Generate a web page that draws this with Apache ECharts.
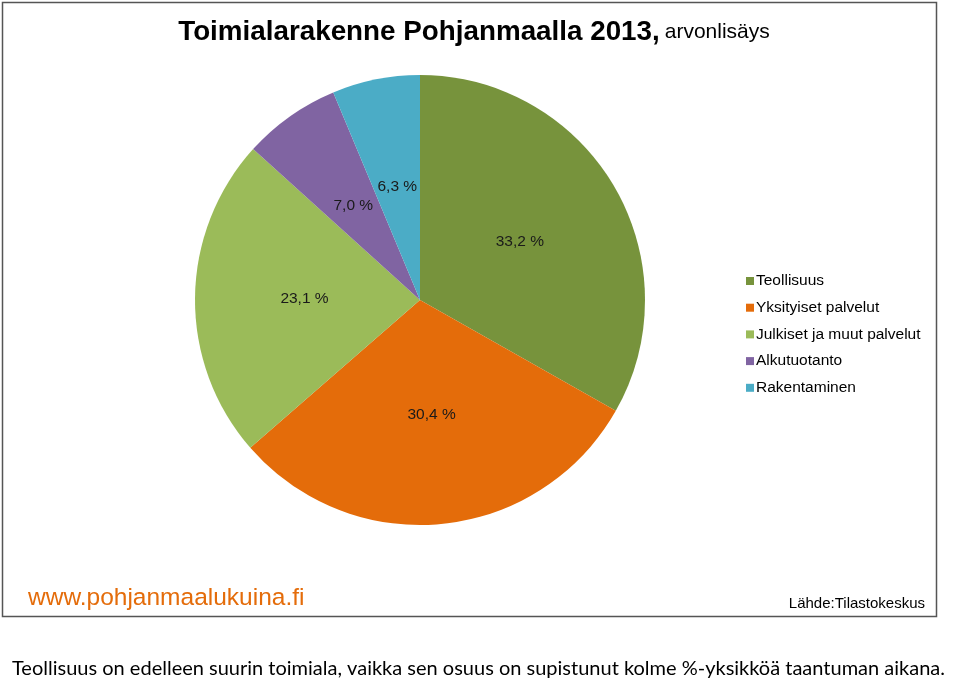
<!DOCTYPE html>
<html><head><meta charset="utf-8">
<script src="https://cdn.jsdelivr.net/npm/echarts@6/dist/echarts.min.js"></script>
<style>html,body{margin:0;padding:0;background:#fff}#c{width:960px;height:680px}</style>
</head><body><div id="c"></div>
<script>
const categories = ['Teollisuus','Yksityiset palvelut','Julkiset ja muut palvelut','Alkutuotanto','Rakentaminen'];
const values = [33.2, 30.4, 23.1, 7.0, 6.3];
const colors = ['#77933C','#E46C0A','#9BBB59','#8064A2','#4BACC6'];
const titleMain = 'Toimialarakenne Pohjanmaalla 2013,';
const titleSub = 'arvonlisäys';
const caption = 'Teollisuus on edelleen suurin toimiala, vaikka sen osuus on supistunut kolme %-yksikköä taantuman aikana.';

const chart = echarts.init(document.getElementById('c'));
chart.setOption({
  animation: false,
  backgroundColor: '#fff',
  color: colors,
  title: {
    text: '{b|' + titleMain + '} {n|' + titleSub + '}',
    left: 469, top: 13, textAlign: 'center',
    textStyle: {
      fontWeight: 'normal',
      rich: {
        b: {fontFamily: '"Liberation Sans",Arial', fontWeight: 'bold', fontSize: 27.8, color: '#000'},
        n: {fontFamily: '"Liberation Sans",Arial', fontWeight: 'normal', fontSize: 21, color: '#000'}
      }
    }
  },
  legend: {
    orient: 'vertical', left: 741, top: 268,
    itemWidth: 8, itemHeight: 8, itemGap: 10.7, icon: 'rect',
    textStyle: {fontFamily: '"Liberation Sans",Arial', fontSize: 15.5, color: '#000', padding: [0,0,0,-3]},
    data: categories
  },
  series: [{
    type: 'pie', center: [420, 300], radius: [0, 225],
    startAngle: 90, clockwise: true,
    label: {
      position: 'inside',
      formatter: p => p.value.toFixed(1).replace('.', ',') + ' %',
      fontFamily: '"Liberation Sans",Arial', fontSize: 15.5, color: '#1a1a1a'
    },
    labelLine: {show: false},
    itemStyle: {borderWidth: 0},
    emphasis: {disabled: true},
    data: categories.map((c, i) => ({name: c, value: values[i]}))
  }],
  graphic: [
    {type: 'rect', shape: {x: 2.5, y: 2.5, width: 934, height: 614}, style: {fill: 'none', stroke: '#555', lineWidth: 1.5}, z: -1},
    {type: 'text', left: 28, top: 586, style: {text: 'www.pohjanmaalukuina.fi', fill: '#E46C0A', font: '24.5px "Liberation Sans",Arial'}},
    {type: 'text', right: 35, top: 596, style: {text: 'Lähde:Tilastokeskus', fill: '#000', font: '15px "Liberation Sans",Arial'}},
    {type: 'text', left: 12, top: 659, style: {text: caption, fill: '#000', font: '20px Lato,"Open Sans",sans-serif'}}
  ]
});
</script></body></html>
